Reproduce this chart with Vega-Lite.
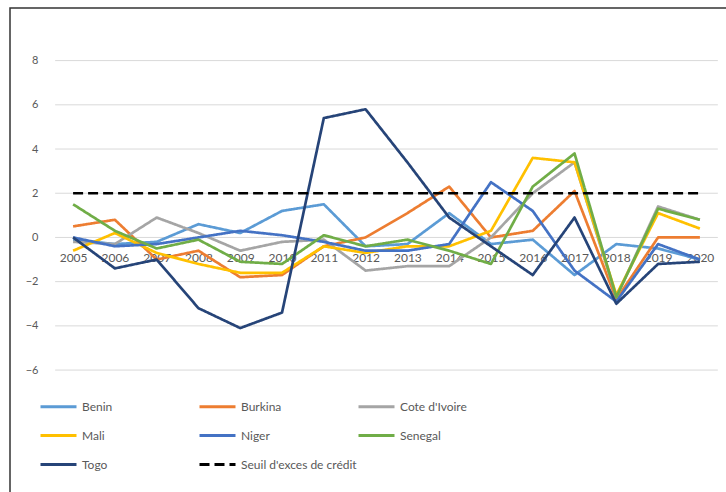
{
  "$schema": "https://vega.github.io/schema/vega-lite/v6.json",
  "autosize": {"type": "none"},
  "padding": {"left": 10, "top": 8, "right": 0, "bottom": 0},
  "width": 730,
  "height": 500,
  "background": "#ffffff",
  "config": {
    "view": {"stroke": "#333333", "strokeWidth": 1.5},
    "font": "Lato"
  },
  "datasets": {
    "grid": [{"g": -6}, {"g": -4}, {"g": -2}, {"g": 0}, {"g": 2}, {"g": 4}, {"g": 6}, {"g": 8}],
    "series": [
      {"serie": "Benin", "annee": 2005, "v": -0.1}, {"serie": "Benin", "annee": 2006, "v": -0.3}, {"serie": "Benin", "annee": 2007, "v": -0.2}, {"serie": "Benin", "annee": 2008, "v": 0.6},
      {"serie": "Benin", "annee": 2009, "v": 0.2}, {"serie": "Benin", "annee": 2010, "v": 1.2}, {"serie": "Benin", "annee": 2011, "v": 1.5}, {"serie": "Benin", "annee": 2012, "v": -0.4},
      {"serie": "Benin", "annee": 2013, "v": -0.3}, {"serie": "Benin", "annee": 2014, "v": 1.1}, {"serie": "Benin", "annee": 2015, "v": -0.3}, {"serie": "Benin", "annee": 2016, "v": -0.1},
      {"serie": "Benin", "annee": 2017, "v": -1.7}, {"serie": "Benin", "annee": 2018, "v": -0.3}, {"serie": "Benin", "annee": 2019, "v": -0.5}, {"serie": "Benin", "annee": 2020, "v": -1.0},

      {"serie": "Burkina", "annee": 2005, "v": 0.5}, {"serie": "Burkina", "annee": 2006, "v": 0.8}, {"serie": "Burkina", "annee": 2007, "v": -1.0}, {"serie": "Burkina", "annee": 2008, "v": -0.6},
      {"serie": "Burkina", "annee": 2009, "v": -1.8}, {"serie": "Burkina", "annee": 2010, "v": -1.7}, {"serie": "Burkina", "annee": 2011, "v": -0.4}, {"serie": "Burkina", "annee": 2012, "v": 0.0},
      {"serie": "Burkina", "annee": 2013, "v": 1.1}, {"serie": "Burkina", "annee": 2014, "v": 2.3}, {"serie": "Burkina", "annee": 2015, "v": 0.0}, {"serie": "Burkina", "annee": 2016, "v": 0.3},
      {"serie": "Burkina", "annee": 2017, "v": 2.1}, {"serie": "Burkina", "annee": 2018, "v": -2.8}, {"serie": "Burkina", "annee": 2019, "v": 0.0}, {"serie": "Burkina", "annee": 2020, "v": 0.0},

      {"serie": "Cote d'Ivoire", "annee": 2005, "v": -0.2}, {"serie": "Cote d'Ivoire", "annee": 2006, "v": -0.3}, {"serie": "Cote d'Ivoire", "annee": 2007, "v": 0.9}, {"serie": "Cote d'Ivoire", "annee": 2008, "v": 0.2},
      {"serie": "Cote d'Ivoire", "annee": 2009, "v": -0.6}, {"serie": "Cote d'Ivoire", "annee": 2010, "v": -0.2}, {"serie": "Cote d'Ivoire", "annee": 2011, "v": -0.1}, {"serie": "Cote d'Ivoire", "annee": 2012, "v": -1.5},
      {"serie": "Cote d'Ivoire", "annee": 2013, "v": -1.3}, {"serie": "Cote d'Ivoire", "annee": 2014, "v": -1.3}, {"serie": "Cote d'Ivoire", "annee": 2015, "v": 0.0}, {"serie": "Cote d'Ivoire", "annee": 2016, "v": 2.0},
      {"serie": "Cote d'Ivoire", "annee": 2017, "v": 3.4}, {"serie": "Cote d'Ivoire", "annee": 2018, "v": -2.7}, {"serie": "Cote d'Ivoire", "annee": 2019, "v": 1.4}, {"serie": "Cote d'Ivoire", "annee": 2020, "v": 0.8},

      {"serie": "Mali", "annee": 2005, "v": -0.6}, {"serie": "Mali", "annee": 2006, "v": 0.2}, {"serie": "Mali", "annee": 2007, "v": -0.7}, {"serie": "Mali", "annee": 2008, "v": -1.2},
      {"serie": "Mali", "annee": 2009, "v": -1.6}, {"serie": "Mali", "annee": 2010, "v": -1.6}, {"serie": "Mali", "annee": 2011, "v": -0.4}, {"serie": "Mali", "annee": 2012, "v": -0.7},
      {"serie": "Mali", "annee": 2013, "v": -0.4}, {"serie": "Mali", "annee": 2014, "v": -0.4}, {"serie": "Mali", "annee": 2015, "v": 0.3}, {"serie": "Mali", "annee": 2016, "v": 3.6},
      {"serie": "Mali", "annee": 2017, "v": 3.4}, {"serie": "Mali", "annee": 2018, "v": -2.6}, {"serie": "Mali", "annee": 2019, "v": 1.1}, {"serie": "Mali", "annee": 2020, "v": 0.4},

      {"serie": "Niger", "annee": 2005, "v": 0.0}, {"serie": "Niger", "annee": 2006, "v": -0.4}, {"serie": "Niger", "annee": 2007, "v": -0.3}, {"serie": "Niger", "annee": 2008, "v": 0.0},
      {"serie": "Niger", "annee": 2009, "v": 0.3}, {"serie": "Niger", "annee": 2010, "v": 0.1}, {"serie": "Niger", "annee": 2011, "v": -0.2}, {"serie": "Niger", "annee": 2012, "v": -0.6},
      {"serie": "Niger", "annee": 2013, "v": -0.6}, {"serie": "Niger", "annee": 2014, "v": -0.3}, {"serie": "Niger", "annee": 2015, "v": 2.5}, {"serie": "Niger", "annee": 2016, "v": 1.2},
      {"serie": "Niger", "annee": 2017, "v": -1.5}, {"serie": "Niger", "annee": 2018, "v": -2.9}, {"serie": "Niger", "annee": 2019, "v": -0.3}, {"serie": "Niger", "annee": 2020, "v": -1.0},

      {"serie": "Senegal", "annee": 2005, "v": 1.5}, {"serie": "Senegal", "annee": 2006, "v": 0.3}, {"serie": "Senegal", "annee": 2007, "v": -0.5}, {"serie": "Senegal", "annee": 2008, "v": -0.1},
      {"serie": "Senegal", "annee": 2009, "v": -1.1}, {"serie": "Senegal", "annee": 2010, "v": -1.2}, {"serie": "Senegal", "annee": 2011, "v": 0.1}, {"serie": "Senegal", "annee": 2012, "v": -0.4},
      {"serie": "Senegal", "annee": 2013, "v": -0.1}, {"serie": "Senegal", "annee": 2014, "v": -0.6}, {"serie": "Senegal", "annee": 2015, "v": -1.2}, {"serie": "Senegal", "annee": 2016, "v": 2.3},
      {"serie": "Senegal", "annee": 2017, "v": 3.8}, {"serie": "Senegal", "annee": 2018, "v": -2.7}, {"serie": "Senegal", "annee": 2019, "v": 1.3}, {"serie": "Senegal", "annee": 2020, "v": 0.8},

      {"serie": "Togo", "annee": 2005, "v": 0.0}, {"serie": "Togo", "annee": 2006, "v": -1.4}, {"serie": "Togo", "annee": 2007, "v": -1.0}, {"serie": "Togo", "annee": 2008, "v": -3.2},
      {"serie": "Togo", "annee": 2009, "v": -4.1}, {"serie": "Togo", "annee": 2010, "v": -3.4}, {"serie": "Togo", "annee": 2011, "v": 5.4}, {"serie": "Togo", "annee": 2012, "v": 5.8},
      {"serie": "Togo", "annee": 2013, "v": 3.4}, {"serie": "Togo", "annee": 2014, "v": 0.9}, {"serie": "Togo", "annee": 2015, "v": -0.4}, {"serie": "Togo", "annee": 2016, "v": -1.7},
      {"serie": "Togo", "annee": 2017, "v": 0.9}, {"serie": "Togo", "annee": 2018, "v": -3.0}, {"serie": "Togo", "annee": 2019, "v": -1.2}, {"serie": "Togo", "annee": 2020, "v": -1.1},

      {"serie": "Seuil d'exces de crédit", "annee": 2005, "v": 2}, {"serie": "Seuil d'exces de crédit", "annee": 2006, "v": 2}, {"serie": "Seuil d'exces de crédit", "annee": 2007, "v": 2}, {"serie": "Seuil d'exces de crédit", "annee": 2008, "v": 2},
      {"serie": "Seuil d'exces de crédit", "annee": 2009, "v": 2}, {"serie": "Seuil d'exces de crédit", "annee": 2010, "v": 2}, {"serie": "Seuil d'exces de crédit", "annee": 2011, "v": 2}, {"serie": "Seuil d'exces de crédit", "annee": 2012, "v": 2},
      {"serie": "Seuil d'exces de crédit", "annee": 2013, "v": 2}, {"serie": "Seuil d'exces de crédit", "annee": 2014, "v": 2}, {"serie": "Seuil d'exces de crédit", "annee": 2015, "v": 2}, {"serie": "Seuil d'exces de crédit", "annee": 2016, "v": 2},
      {"serie": "Seuil d'exces de crédit", "annee": 2017, "v": 2}, {"serie": "Seuil d'exces de crédit", "annee": 2018, "v": 2}, {"serie": "Seuil d'exces de crédit", "annee": 2019, "v": 2}, {"serie": "Seuil d'exces de crédit", "annee": 2020, "v": 2}
    ]
  },
  "layer": [
    {
      "data": {"name": "grid"},
      "mark": {"type": "rule", "stroke": "#d9d9d9", "strokeWidth": 1},
      "encoding": {
        "y": {"field": "g", "type": "quantitative", "scale": {"domain": [-12.24, 10.38], "nice": false, "zero": false}},
        "x": {"datum": 2004.57, "type": "quantitative"},
        "x2": {"datum": 2020.43}
      }
    },
    {
      "data": {"name": "series"},
      "mark": {"type": "line", "strokeWidth": 2.7, "strokeJoin": "round", "strokeCap": "butt"},
      "encoding": {
        "x": {
          "field": "annee", "type": "quantitative",
          "scale": {"domain": [2003.49, 2020.96], "nice": false, "zero": false},
          "axis": {
            "orient": "bottom", "offset": -270.5, "values": [2005, 2006, 2007, 2008, 2009, 2010, 2011, 2012, 2013, 2014, 2015, 2016, 2017, 2018, 2019, 2020],
            "format": "d", "title": null, "grid": false, "domain": false, "ticks": false, "tickSize": 0,
            "labelPadding": 15, "labelFontSize": 12, "labelColor": "#595959", "labelFont": "Lato", "labelOverlap": false, "labelFlush": false
          }
        },
        "y": {
          "field": "v", "type": "quantitative",
          "scale": {"domain": [-12.24, 10.38], "nice": false, "zero": false},
          "axis": {
            "orient": "left", "offset": -30, "values": [-6, -4, -2, 0, 2, 4, 6, 8],
            "title": null, "grid": false, "domain": false, "ticks": false, "tickSize": 0,
            "labelPadding": 2, "labelFontSize": 11, "labelColor": "#595959", "labelFont": "Lato"
          }
        },
        "color": {
          "field": "serie", "type": "nominal",
          "scale": {
            "domain": ["Benin", "Burkina", "Cote d'Ivoire", "Mali", "Niger", "Senegal", "Togo", "Seuil d'exces de crédit"],
            "range": ["#5b9bd5", "#ed7d31", "#a5a5a5", "#ffc000", "#4472c4", "#70ad47", "#264478", "#000000"]
          },
          "legend": {
            "orient": "none", "legendX": 29, "legendY": 379, "title": null, "columns": 3, "direction": "horizontal",
            "gridAlign": "all", "columnPadding": -17, "rowPadding": 3,
            "symbolType": "stroke", "symbolSize": 1296, "symbolStrokeWidth": 3,
            "labelFontSize": 12, "labelColor": "#595959", "labelFont": "Lato", "labelOffset": 4, "labelLimit": 200
          }
        },
        "strokeDash": {
          "field": "serie", "type": "nominal",
          "scale": {
            "domain": ["Benin", "Burkina", "Cote d'Ivoire", "Mali", "Niger", "Senegal", "Togo", "Seuil d'exces de crédit"],
            "range": [[1, 0], [1, 0], [1, 0], [1, 0], [1, 0], [1, 0], [1, 0], [10, 5]]
          },
          "legend": null
        },
        "order": {"field": "annee", "type": "quantitative"}
      }
    }
  ]
}
